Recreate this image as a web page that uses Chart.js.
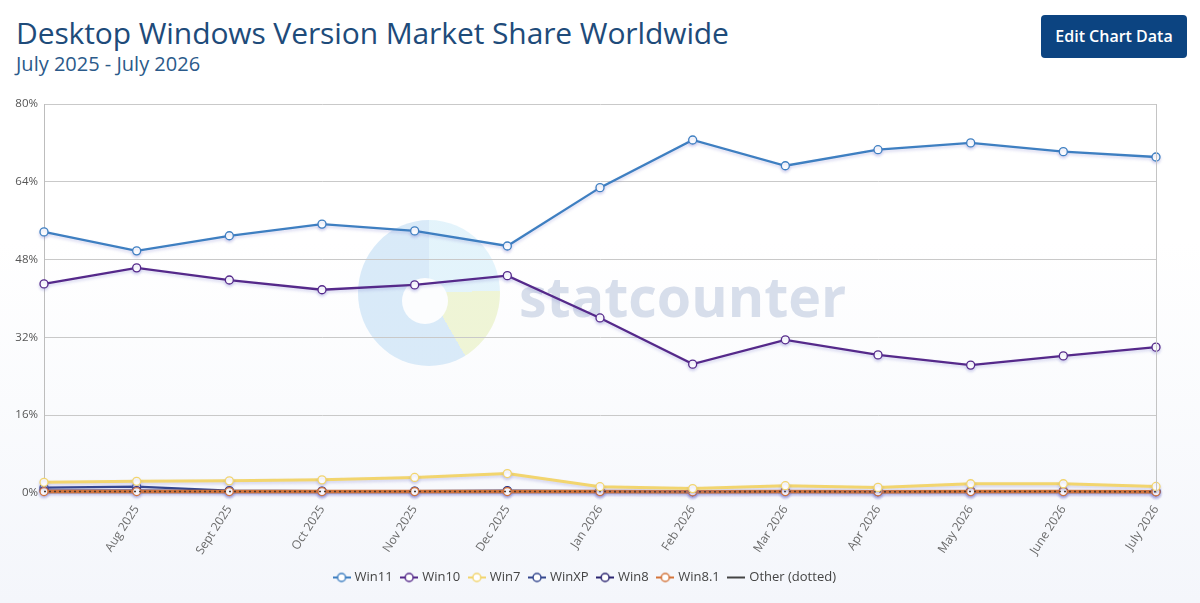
<!DOCTYPE html>
<html>
<head>
<meta charset="utf-8">
<script src="https://cdn.jsdelivr.net/npm/chart.js@4.4.1/dist/chart.umd.min.js"></script>
<style>
  html, body { margin:0; padding:0; }
  body { width:1200px; height:603px; position:relative; overflow:hidden;
         background: linear-gradient(#ffffff 0%, #ffffff 40%, #f4f6fb 100%);
         font-family: "Open Sans", sans-serif; }
  #title { position:absolute; left:16px; top:12px; font-size:30px; color:#1e4b7a; letter-spacing:-0.1px; white-space:nowrap; }
  #subtitle { position:absolute; left:16px; top:50px; font-size:20px; color:#2b5a8a; white-space:nowrap; }
  #btn { position:absolute; left:1041px; top:15px; width:146px; height:43px; background:#0c4481; border-radius:4px;
         color:#fff; font-weight:600; font-size:16px; line-height:43px; text-align:center; }
  #logo { position:absolute; left:358px; top:220px; width:142px; height:146px; border-radius:50%;
          background: conic-gradient(#e2f3fb 0deg 88deg, #eef4d4 88deg 150deg, #d7e9f8 150deg 360deg); opacity:0.95; }
  #hole { position:absolute; left:402px; top:278px; width:46px; height:46px; border-radius:50%; background:#fcfdfe; }
  #wm { position:absolute; left:519px; top:258px; font-size:55.5px; font-weight:700; color:#d7deeb; }
  canvas { position:absolute; left:0; top:0; }
</style>
</head>
<body>
<div id="title">Desktop Windows Version Market Share Worldwide</div>
<div id="subtitle">July 2025 - July 2026</div>
<div id="btn">Edit Chart Data</div>
<div id="logo"></div>
<div id="hole"></div>
<div id="wm">statcounter</div>
<canvas id="c" width="1200" height="603"></canvas>
<script>
const months = ['July 2025','Aug 2025','Sept 2025','Oct 2025','Nov 2025','Dec 2025','Jan 2026','Feb 2026','Mar 2026','Apr 2026','May 2026','June 2026','July 2026'];
const tickLabels = ['', 'Aug 2025','Sept 2025','Oct 2025','Nov 2025','Dec 2025','Jan 2026','Feb 2026','Mar 2026','Apr 2026','May 2026','June 2026','July 2026'];
const yTicks = [0, 16, 32, 48, 64, 80];

const win11  = [53.7, 49.8, 52.9, 55.3, 53.9, 50.8, 62.8, 72.6, 67.3, 70.6, 72.0, 70.2, 69.1];
const win10  = [43.0, 46.3, 43.8, 41.8, 42.8, 44.7, 36.0, 26.5, 31.5, 28.4, 26.3, 28.2, 30.0];
const win7   = [2.2, 2.4, 2.5, 2.7, 3.2, 4.0, 1.3, 0.9, 1.5, 1.15, 1.9, 1.9, 1.35];
const winXP  = [1.1, 1.3, 0.5, 0.4, 0.4, 0.5, 0.4, 0.3, 0.4, 0.3, 0.4, 0.4, 0.3];
const win8   = [0.5, 0.5, 0.4, 0.35, 0.35, 0.4, 0.35, 0.3, 0.35, 0.3, 0.35, 0.35, 0.3];
const win81  = [0.3, 0.3, 0.3, 0.3, 0.3, 0.3, 0.3, 0.25, 0.3, 0.25, 0.3, 0.3, 0.25];
const other  = [0.3, 0.3, 0.3, 0.3, 0.3, 0.3, 0.3, 0.25, 0.3, 0.25, 0.3, 0.3, 0.25];

function legendIcon(color, dotted) {
  const c = document.createElement('canvas');
  c.width = 18; c.height = 12;
  const x = c.getContext('2d');
  x.strokeStyle = color; x.lineWidth = 2;
  x.beginPath(); x.moveTo(0, 6); x.lineTo(18, 6); x.stroke();
  if (!dotted) {
    x.fillStyle = '#fff'; x.lineWidth = 1.5;
    x.beginPath(); x.arc(9, 6, 4, 0, Math.PI * 2); x.fill(); x.stroke();
  }
  return c;
}

function series(label, data, color, width, order, extra) {
  return Object.assign({
    label, data, order,
    borderColor: color, backgroundColor: '#fff',
    borderWidth: width,
    pointRadius: 4, pointHoverRadius: 5,
    pointBackgroundColor: '#fff', pointBorderColor: color, pointBorderWidth: 1.3,
    tension: 0, fill: false, clip: false,
    pointStyle: 'circle',
    legendIcon: legendIcon(color, false)
  }, extra || {});
}

// lower order is drawn on top
const datasets = [
  series('Win11', win11, '#3e7fc1', 2.3, 0),
  series('Win10', win10, '#55298a', 2.3, 1),
  series('Win7', win7, '#f2d56e', 3, 2),
  series('WinXP', winXP, '#34478f', 2.3, 6),
  series('Win8', win8, '#2b2470', 2.3, 5),
  series('Win8.1', win81, '#d4743a', 3.5, 4),
  series('Other (dotted)', other, '#4a3a30', 1.6, 3, { borderDash: [2, 3], pointRadius: 0, legendIcon: legendIcon('#444', true) })
];

const shadowPlugin = {
  id: 'shadow',
  beforeDatasetDraw(chart) {
    const ctx = chart.ctx;
    ctx.save();
    ctx.shadowColor = 'rgba(110,110,200,0.28)';
    ctx.shadowBlur = 3;
    ctx.shadowOffsetY = 2;
  },
  afterDatasetDraw(chart) { chart.ctx.restore(); }
};

const frame = {
  id: 'frame',
  afterDraw(chart) {
    const a = chart.chartArea, ctx = chart.ctx;
    ctx.save();
    ctx.strokeStyle = '#c4c4c4'; ctx.lineWidth = 1;
    ctx.beginPath();
    ctx.moveTo(Math.round(a.right) + 0.5, a.top);
    ctx.lineTo(Math.round(a.right) + 0.5, a.bottom);
    ctx.stroke();
    ctx.restore();
  }
};

new Chart(document.getElementById('c'), {
  type: 'line',
  data: { labels: months, datasets },
  plugins: [shadowPlugin, frame],
  options: {
    responsive: false,
    animation: false,
    layout: { padding: { top: 104, right: 44, left: 15, bottom: 9 } },
    scales: {
      x: {
        offset: false,
        grid: { display: false },
        border: { display: false },
        ticks: {
          autoSkip: false, minRotation: 57, maxRotation: 57,
          color: '#6a6a6a', font: { family: 'Open Sans', size: 12 }, padding: 2,
          callback: (v, i) => tickLabels[i]
        },
        afterFit: s => { s.height = 68; }
      },
      y: {
        min: 0, max: 80,
        afterBuildTicks: s => { s.ticks = yTicks.map(v => ({ value: v })); },
        grid: { color: '#c9c9c9', lineWidth: 1, drawTicks: false },
        border: { display: true, color: '#bdbdbd' },
        ticks: { color: '#555', font: { family: 'Open Sans', size: 11.5 }, padding: 6, callback: v => v + '%' },
        afterFit: s => { s.width = 29; }
      }
    },
    plugins: {
      legend: {
        position: 'bottom',
        labels: {
          color: '#444', font: { family: 'Open Sans', size: 13 }, padding: 10,
          usePointStyle: true, boxHeight: 12,
          generateLabels: chart => chart.data.datasets.map((d, i) => ({
            text: d.label, pointStyle: d.legendIcon, datasetIndex: i,
            fontColor: '#444', hidden: false, lineWidth: 0, strokeStyle: 'transparent', fillStyle: 'transparent'
          }))
        }
      },
      tooltip: { enabled: false }
    }
  }
});
</script>
</body>
</html>
